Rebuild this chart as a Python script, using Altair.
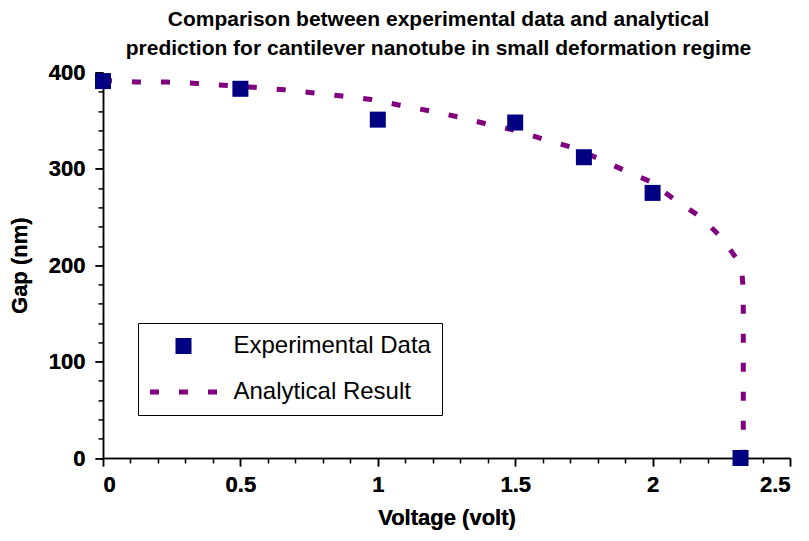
import altair as alt
import pandas as pd

# Experimental data (Voltage in volt, Gap in nm)
exp_voltage = [0.0, 0.5, 1.0, 1.5, 1.75, 2.0, 2.32]
exp_gap = [391, 383, 351, 348, 312, 275, 0]

# Analytical prediction curve
ana_voltage = [0.0, 0.12, 0.23, 0.34, 0.44, 0.55, 0.66, 0.76, 0.87, 0.975,
               1.08, 1.19, 1.29, 1.39, 1.5, 1.6, 1.71, 1.8, 1.9, 1.99,
               2.08, 2.17, 2.25, 2.31, 2.325, 2.33, 2.33]
ana_gap = [392, 390, 390, 388.6, 386.6, 384.5, 382, 379, 375.5, 372,
           366, 360, 354, 347, 340, 331, 322, 311, 298, 287,
           268, 251, 229, 205, 192, 175, 0]

series_names = ["Experimental Data", "Analytical Result"]
series_colors = ["#000080", "#800080"]

x_major = [0, 0.5, 1, 1.5, 2, 2.5]
x_minor = [0.1, 0.2, 0.3, 0.4, 0.6, 0.7, 0.8, 0.9, 1.1, 1.2, 1.3, 1.4,
           1.6, 1.7, 1.8, 1.9, 2.1, 2.2, 2.3, 2.4]
y_major = [0, 100, 200, 300, 400]
y_minor = [v for v in range(20, 400, 20) if v % 100 != 0]

title_lines = ["Comparison between experimental data and analytical",
               "prediction for cantilever nanotube in small deformation regime"]

exp_df = pd.DataFrame({"Voltage": exp_voltage, "Gap": exp_gap,
                       "series": series_names[0]})
ana_df = pd.DataFrame({"Voltage": ana_voltage, "Gap": ana_gap,
                       "idx": list(range(len(ana_voltage)))})

# symbol size 529 -> unit = 11.5 px
square_path = "M-0.696,-0.696H0.696V0.696H-0.696Z"
dash_path = ("M-2.913,-0.217H-2.13V0.217H-2.913Z "
             "M-0.391,-0.217H0.391V0.217H-0.391Z "
             "M2.13,-0.217H2.913V0.217H2.13Z")

FONT = "Liberation Sans"

xscale = alt.Scale(domain=[0, 2.5], nice=False, zero=False)
yscale = alt.Scale(domain=[0, 400], nice=False)

x_axis = alt.Axis(values=x_major, format="~g", title="Voltage (volt)", orient="bottom",
                  tickSize=8, labelPadding=8, titlePadding=12, grid=False)
y_axis = alt.Axis(values=y_major, format="d", title="Gap (nm)", orient="left",
                  tickSize=8, labelPadding=10, titlePadding=17, grid=False)

legend = alt.Legend(orient="none", legendX=35, legendY=250.6, title=None,
                    labelFontSize=24, labelFont=FONT, labelColor="black",
                    labelLimit=400, labelOffset=38, symbolOffset=22.5,
                    symbolSize=529, symbolStrokeWidth=0,
                    padding=11, strokeColor="black", fillColor="white",
                    rowPadding=22)

line = alt.Chart(ana_df).mark_line(
    color=series_colors[1], strokeWidth=5, strokeDash=[9, 20]
).encode(
    x=alt.X("Voltage:Q", scale=xscale, axis=x_axis),
    y=alt.Y("Gap:Q", scale=yscale, axis=y_axis),
    order="idx:Q",
)

points = alt.Chart(exp_df).mark_point(filled=True, size=529, opacity=1).encode(
    x=alt.X("Voltage:Q", scale=xscale, axis=x_axis),
    y=alt.Y("Gap:Q", scale=yscale, axis=y_axis),
    color=alt.Color("series:N", scale=alt.Scale(domain=series_names, range=series_colors),
                    legend=legend),
    shape=alt.Shape("series:N", scale=alt.Scale(domain=series_names,
                                                range=[square_path, dash_path]),
                    legend=legend),
)

minor = alt.Chart(ana_df).mark_point(opacity=0).encode(
    x=alt.X("Voltage:Q", scale=xscale,
            axis=alt.Axis(values=x_minor, labels=False, domain=False, title=None,
                          orient="bottom", tickSize=5, grid=False)),
    y=alt.Y("Gap:Q", scale=yscale,
            axis=alt.Axis(values=y_minor, labels=False, domain=False, title=None,
                          orient="left", tickSize=5, grid=False)),
)

chart = alt.layer(line, points, minor).resolve_axis(
    x="independent", y="independent"
).properties(
    width=687,
    height=385.6,
    padding={"left": 95, "top": 64.4, "right": 11, "bottom": 75},
    autosize=alt.AutoSizeParams(type="none"),
    title=alt.TitleParams(text=title_lines, fontSize=21, fontWeight="bold",
                          font=FONT, anchor="middle", dx=-8, lineHeight=29,
                          offset=2, color="black"),
).configure_axis(
    labelFont=FONT, labelFontSize=22, labelFontWeight="bold", labelColor="black",
    titleFont=FONT, titleFontSize=22, titleFontWeight="bold", titleColor="black",
    domainColor="black", domainWidth=1.5, tickColor="black", tickWidth=1.5,
).configure_view(strokeWidth=0)

chart.save("out.html", embed_options={"renderer": "svg", "actions": False})
